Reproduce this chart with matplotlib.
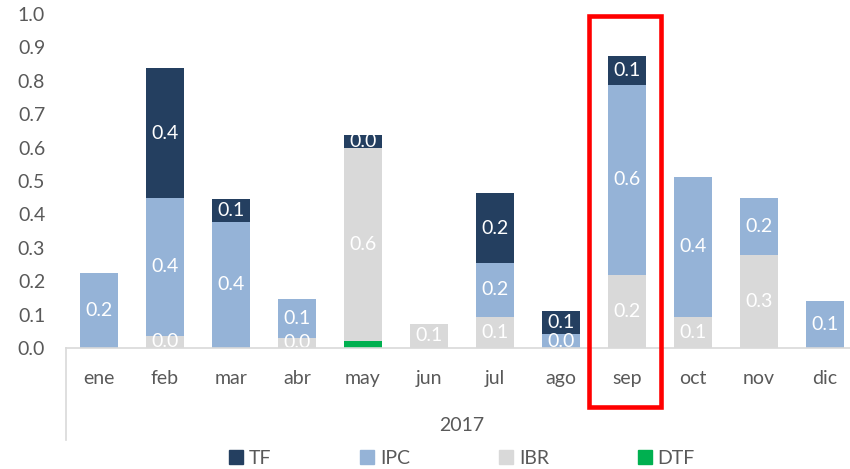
import matplotlib
matplotlib.use("Agg")
import matplotlib.pyplot as plt
import matplotlib.transforms as mtransforms
from matplotlib.patches import Rectangle, Patch
from matplotlib.lines import Line2D
import numpy as np

plt.rcParams['font.family'] = ['Lato', 'DejaVu Sans']

months = ["ene", "feb", "mar", "abr", "may", "jun", "jul", "ago", "sep", "oct", "nov", "dic"]
year_label = "2017"
dtf = [0.0, 0.0, 0.0, 0.0, 0.02, 0.0, 0.0, 0.0, 0.0, 0.0, 0.0, 0.0]
ibr = [0.0, 0.037, 0.0, 0.031, 0.58, 0.072, 0.094, 0.0, 0.219, 0.094, 0.278, 0.0]
ipc = [0.224, 0.413, 0.378, 0.116, 0.0, 0.0, 0.161, 0.041, 0.568, 0.419, 0.172, 0.141]
tf = [0.0, 0.387, 0.067, 0.0, 0.038, 0.0, 0.208, 0.07, 0.087, 0.0, 0.0, 0.0]
highlight_month = "sep"

colors = {"TF": "#243F60", "IPC": "#95B3D7", "IBR": "#D9D9D9", "DTF": "#00B050"}
txt_color = "#595959"
fs = 14

W, H = 850, 469
fig = plt.figure(figsize=(W / 100, H / 100), dpi=100)
ax_left, ax_bottom_px, ax_top_px = 66, 348, 14
n = len(months)
slot = 66
ax = fig.add_axes([ax_left / W, (H - ax_bottom_px) / H, n * slot / W, (ax_bottom_px - ax_top_px) / H])

x = np.arange(n)
bw = 0.58
bottom = np.zeros(n)
series = [("DTF", dtf, False), ("IBR", ibr, True), ("IPC", ipc, True), ("TF", tf, True)]
for name, vals, lab in series:
    v = np.array(vals)
    ax.bar(x, v, bw, bottom=bottom, color=colors[name], linewidth=0, zorder=2)
    if lab:
        for i in range(n):
            if v[i] > 0:
                ax.text(x[i], bottom[i] + v[i] / 2, f"{v[i]:.1f}", ha="center", va="center",
                        color="white", fontsize=fs, zorder=3)
    bottom += v

ax.set_xlim(-0.5, n - 0.5)
ax.set_ylim(0, 1.0)
ax.set_yticks(np.arange(0, 1.01, 0.1))
ax.set_yticklabels([f"{t:.1f}" for t in np.arange(0, 1.01, 0.1)])
ax.set_xticks(x)
ax.set_xticklabels(months)
ax.tick_params(axis="both", length=0, colors=txt_color, labelsize=fs)
ax.tick_params(axis="y", pad=15)
ax.tick_params(axis="x", pad=16)
for s in ["top", "right", "left"]:
    ax.spines[s].set_visible(False)
ax.spines["bottom"].set_color("#D9D9D9")
ax.spines["bottom"].set_linewidth(1.2)
ax.spines["bottom"].set_zorder(4)

# category group separators
sep_depth = (440 - ax_bottom_px) / (ax_bottom_px - ax_top_px)
for xa in (0, 1):
    ax.add_line(Line2D([xa, xa], [0, -sep_depth], transform=ax.transAxes, color="#D9D9D9",
                       linewidth=1.2, clip_on=False))

ax.text(0.5, -(425 - ax_bottom_px) / (ax_bottom_px - ax_top_px), year_label, transform=ax.transAxes,
        ha="center", va="center", fontsize=fs, color=txt_color)

# highlight box
k = months.index(highlight_month)
trans = mtransforms.blended_transform_factory(ax.transData, ax.transAxes)
y0 = -(407 - ax_bottom_px) / (ax_bottom_px - ax_top_px)
y1 = (ax_bottom_px - 15.5) / (ax_bottom_px - ax_top_px)
ax.add_patch(Rectangle((k - 0.57, y0), 1.085, y1 - y0, transform=trans, fill=False,
                       edgecolor="#FF0000", linewidth=3.3, clip_on=False, zorder=5))

handles = [Patch(color=colors[nm]) for nm in ["TF", "IPC", "IBR", "DTF"]]
leg = fig.legend(handles, ["TF", "IPC", "IBR", "DTF"], loc="center",
                 bbox_to_anchor=(462 / W, 1 - 458 / H), ncol=4, frameon=False,
                 fontsize=fs, handlelength=0.7, handleheight=0.7, handletextpad=0.3,
                 columnspacing=4.6, labelcolor=txt_color)

fig.savefig("out.png", dpi=100)
